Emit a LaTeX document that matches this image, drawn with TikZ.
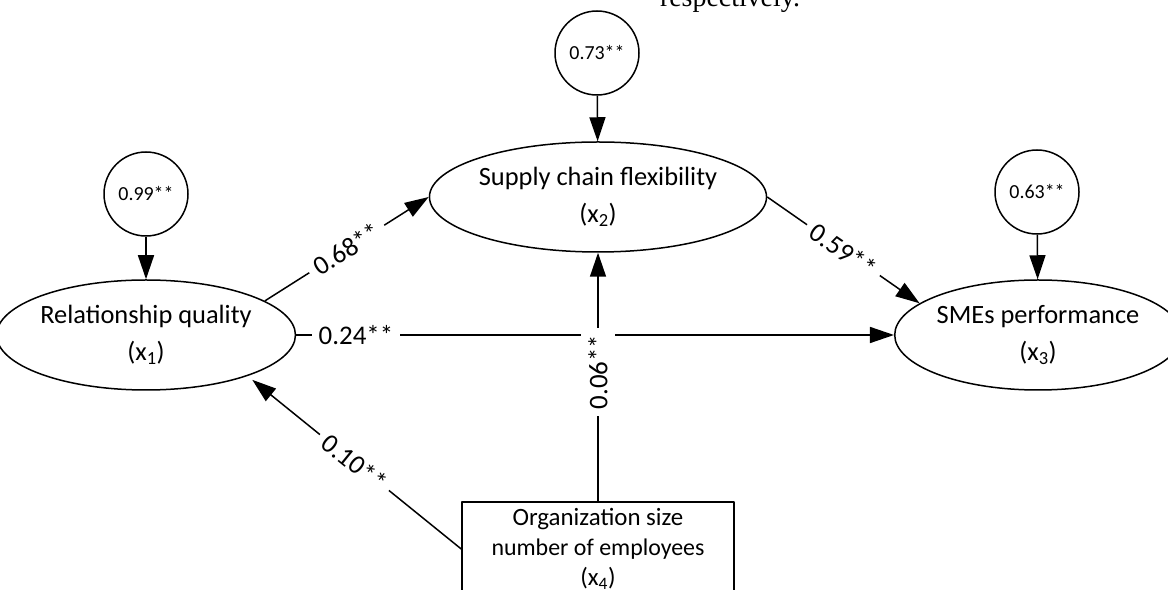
\documentclass[tikz,border=0pt]{standalone}
\usepackage{fontspec}
\setmainfont{Carlito}
\newfontfamily\timesfont{Liberation Serif}
\usetikzlibrary{shapes.geometric,arrows.meta}
\tikzset{
  latent/.style={draw=black,ellipse,line width=1.5bp,inner sep=0pt,align=center,font=\fontsize{26.5}{37}\selectfont},
  resid/.style={draw=black,circle,line width=1.5bp,minimum size=84bp,inner sep=0pt,font=\fontsize{20}{24}\selectfont},
  covar/.style={draw=black,rectangle,line width=1.5bp,inner sep=0pt,align=center,font=\fontsize{25}{30}\selectfont},
  coef/.style={fill=white,inner sep=7bp,font=\fontsize{27}{30}\selectfont},
}
\begin{document}
\begin{tikzpicture}[>={Triangle[length=24bp,width=16bp]},line join=bevel,line width=1.5bp]
    \useasboundingbox (0bp,0bp) rectangle (1168bp,590bp);
    \clip (0bp,0bp) rectangle (1168bp,590bp);
    %%
    \node (note) at (730bp,583bp) [anchor=base,font=\timesfont\fontsize{28}{32}\selectfont] {respectively.};
    \node (x1) at (146bp,255bp) [latent,minimum width=270bp,minimum height=110bp] {Relationship quality\\(x\textsubscript{1})};
    \node (x2) at (598bp,393bp) [latent,minimum width=272bp,minimum height=110bp] {Supply chain flexibility\\(x\textsubscript{2})};
    \node (x3) at (1038bp,255bp) [latent,minimum width=255bp,minimum height=110bp] {SMEs performance\\(x\textsubscript{3})};
    \node (x4) at (598bp,41bp) [covar,minimum width=272bp,minimum height=94bp] {Organization size\\{\fontsize{24}{30}\selectfont number of employees}\\(x\textsubscript{4})};
    \node (e1) at (146bp,396bp) [resid] {0.99**};
    \node (e2) at (597bp,537bp) [resid] {0.73**};
    \node (e3) at (1037bp,398bp) [resid] {0.63**};
    %
    \draw [->] (e1) -- (x1);
    \draw [->] (e2) -- (x2);
    \draw [->] (e3) -- (x3);
    \draw [->] (x1.east) -- node[coef,pos=0.1] {0.24**} (x3.west);
    \draw [->] (x1.16) -- node[coef,sloped] {0.68**} (x2.west);
    \draw [->] (x2.east) -- node[coef,sloped] {0.59**} (x3.165);
    \draw [->,shorten >=6bp] (x4.west) -- node[coef,sloped] {0.10**} (x1.-22);
    \draw [->] (x4.north) -- node[coef,sloped,pos=0.52] {0.06**} (x2.south);
    %
\end{tikzpicture}
\end{document}
